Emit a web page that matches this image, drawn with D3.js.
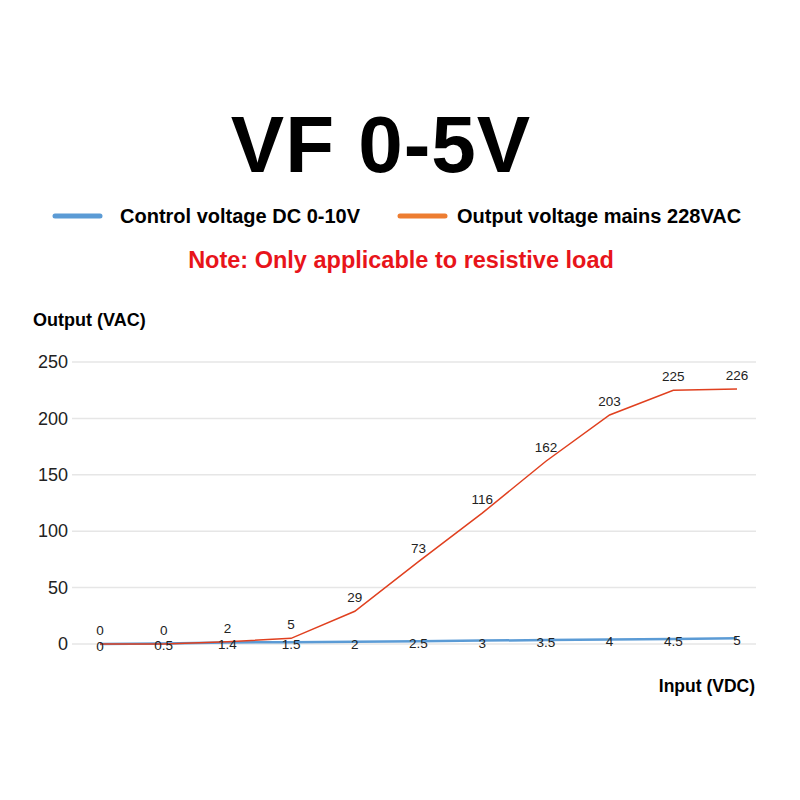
<!DOCTYPE html>
<html>
<head>
<meta charset="utf-8">
<script src="https://cdn.jsdelivr.net/npm/d3@7"></script>
<style>
  body { margin: 0; background: #fff; }
  text { font-family: "Liberation Sans", Arial, sans-serif; }
</style>
</head>
<body>
<div id="chart"></div>
<script>
// input steps along the x axis
const steps = ["p0", "p1", "p2", "p3", "p4", "p5", "p6", "p7", "p8", "p9", "p10"];
// control voltage series (blue)
const controlValues = [0, 0.5, 1.4, 1.5, 2, 2.5, 3, 3.5, 4, 4.5, 5];
// output voltage series (orange)
const outputValues = [0, 0, 2, 5, 29, 73, 116, 162, 203, 225, 226];
// y tick labels
const yTicks = [0, 50, 100, 150, 200, 250];

const width = 800, height = 800;

const svg = d3.select("#chart")
  .append("svg")
  .attr("width", width)
  .attr("height", height);

// Title
svg.append("text")
  .attr("x", 381)
  .attr("y", 172)
  .attr("text-anchor", "middle")
  .style("font-size", "80px")
  .style("font-weight", "bold")
  .style("letter-spacing", "1px")
  .text("VF 0-5V");

// Legend
const legend = [
  { label: "Control voltage DC 0-10V", color: "#5b9bd5", x: 53, tx: 120 },
  { label: "Output voltage mains 228VAC", color: "#ed7d31", x: 398, tx: 457 },
];
legend.forEach(l => {
  svg.append("line")
    .attr("x1", l.x + 2).attr("x2", l.x + 47)
    .attr("y1", 216).attr("y2", 216)
    .attr("stroke", l.color)
    .attr("stroke-width", 5)
    .attr("stroke-linecap", "round");
  svg.append("text")
    .attr("x", l.tx)
    .attr("y", 223)
    .style("font-size", "20px")
    .style("font-weight", "bold")
    .text(l.label);
});

// Note
svg.append("text")
  .attr("x", 401)
  .attr("y", 268)
  .attr("text-anchor", "middle")
  .style("font-size", "23.5px")
  .style("font-weight", "bold")
  .attr("fill", "#e8141a")
  .text("Note: Only applicable to resistive load");

// Scales
const x = d3.scalePoint()
  .domain(steps)
  .range([100, 737]);

const y = d3.scaleLinear()
  .domain([0, 250])
  .range([644, 362]);

// Gridlines
svg.append("g")
  .selectAll("line")
  .data(yTicks)
  .enter()
  .append("line")
  .attr("x1", 72).attr("x2", 756)
  .attr("y1", d => y(d)).attr("y2", d => y(d))
  .attr("stroke", "#e6e6e6")
  .attr("stroke-width", 1.5);

// Y axis labels
const yAxis = svg.append("g")
  .attr("transform", "translate(68,0)")
  .call(d3.axisLeft(y).tickValues(yTicks).tickSize(0).tickPadding(0));
yAxis.select(".domain").remove();
yAxis.selectAll("text")
  .style("font-size", "18px")
  .style("font-family", "'Liberation Sans', Arial, sans-serif")
  .attr("fill", "#222");

// Axis titles
svg.append("text")
  .attr("x", 33).attr("y", 326)
  .style("font-size", "18px")
  .style("font-weight", "bold")
  .text("Output (VAC)");

svg.append("text")
  .attr("x", 755).attr("y", 692)
  .attr("text-anchor", "end")
  .style("font-size", "17.5px")
  .style("font-weight", "bold")
  .text("Input (VDC)");

// Lines
const line = d3.line()
  .x((d, i) => x(steps[i]))
  .y(d => y(d));

svg.append("path")
  .datum(controlValues)
  .attr("fill", "none")
  .attr("stroke", "#5b9bd5")
  .attr("stroke-width", 2.5)
  .attr("d", line);

svg.append("path")
  .datum(outputValues)
  .attr("fill", "none")
  .attr("stroke", "#e0401f")
  .attr("stroke-width", 1.5)
  .attr("d", line);

// Data labels
svg.append("g")
  .selectAll("text")
  .data(controlValues)
  .enter()
  .append("text")
  .attr("x", (d, i) => x(steps[i]))
  .attr("y", d => y(d) + 7)
  .attr("text-anchor", "middle")
  .style("font-size", "13.5px")
  .attr("fill", "#222")
  .text(d => d);

svg.append("g")
  .selectAll("text")
  .data(outputValues)
  .enter()
  .append("text")
  .attr("x", (d, i) => x(steps[i]))
  .attr("y", d => y(d) - 9)
  .attr("text-anchor", "middle")
  .style("font-size", "13.5px")
  .attr("fill", "#222")
  .text(d => d);
</script>
</body>
</html>
